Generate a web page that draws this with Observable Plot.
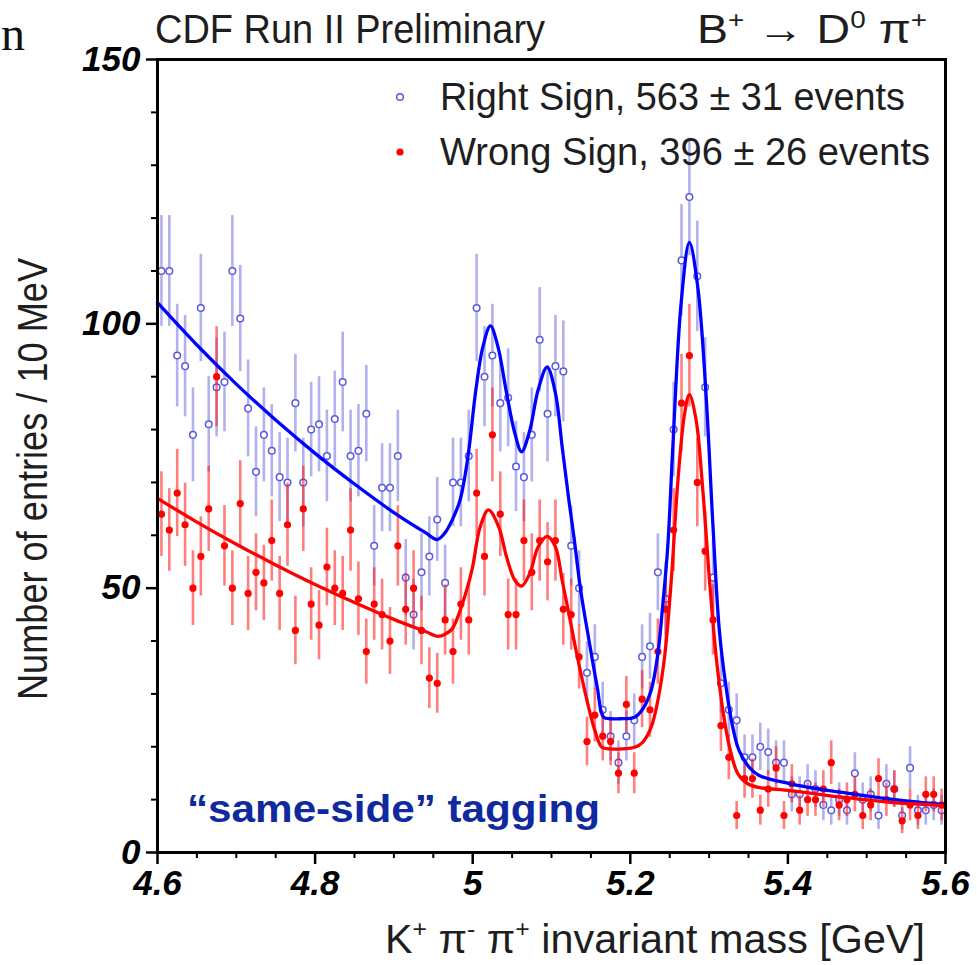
<!DOCTYPE html>
<html>
<head>
<meta charset="utf-8">
<script src="https://cdn.jsdelivr.net/npm/d3@7"></script>
<script src="https://cdn.jsdelivr.net/npm/@observablehq/plot@0.6"></script>
<style>
  html, body { margin: 0; padding: 0; background: #fff; }
  #chart { position: relative; width: 977px; height: 965px; overflow: hidden; }
  #chart svg { overflow: visible; }
</style>
</head>
<body>
<div id="chart"></div>
<script>
// K+ pi- pi+ invariant mass, 10 MeV bins from 4.60 to 5.60 GeV
const massLow = 4.6;
const binWidth = 0.01;

// Entries per bin, right-sign candidates
const rightSign = [
  110,110,94,92,79,103,81,88,89,110,
  101,84,72,79,76,71,70,85,70,80,
  81,75,82,89,75,76,83,58,69,69,
  75,52,45,53,56,63,51,70,70,75,
  103,90,94,85,86,73,71,79,97,83,
  92,91,58,50,34,37,27,22,17,22,
  25,37,39,53,48,80,112,124,109,88,
  52,32,27,25,18,18,20,19,17,17,
  11,11,13,12,9,8,10,8,15,10,
  11,7,13,12,7,16,8,8,9,8
];

// Entries per bin, wrong-sign candidates
const wrongSign = [
  64,61,68,62,50,56,65,90,58,50,
  66,49,53,51,59,49,62,42,65,47,
  43,54,50,49,61,48,38,47,45,40,
  58,46,50,42,33,32,44,38,47,44,
  68,56,79,64,45,45,59,53,59,55,
  59,46,45,37,21,26,22,21,15,28,
  15,29,27,38,46,61,85,94,70,57,
  44,24,18,7,14,14,8,12,16,7,
  13,8,10,10,12,17,9,10,11,7,
  9,14,10,12,6,9,7,11,11,9
];

// Fitted model, right sign
const rightFitMass = [4.600,4.650,4.700,4.750,4.800,4.850,4.900,4.940,4.955,4.965,4.974,4.984,4.994,5.004,5.013,5.0225,5.032,5.043,5.0535,5.062,5.0725,5.083,5.0945,5.105,5.1135,5.122,5.1285,5.137,5.1475,5.158,5.166,5.175,5.187,5.2055,5.216,5.2265,5.235,5.241,5.2475,5.254,5.2645,5.275,5.2855,5.296,5.3045,5.313,5.3215,5.330,5.338,5.351,5.363,5.403,5.467,5.530,5.594,5.600];
const rightFitCount = [104,96,88.6,81.8,75.5,69.7,64.3,60.5,59.2,60.5,62.9,66.7,74.9,87.5,95.7,99.6,95.7,86.9,79.3,75.8,79.9,87.5,91.8,86.9,76.8,66.7,59.7,49.6,40.2,31.3,25.6,25.3,25.3,25.6,27.2,30.7,37.6,46.5,57.8,76.8,103.9,115.4,107.1,86.9,62.9,42,31.3,23.7,19.3,16.1,14.6,13,11.4,10.1,9.1,9.0];

// Fitted model, wrong sign
const wrongFitMass = [4.600,4.650,4.700,4.750,4.800,4.850,4.900,4.940,4.956,4.965,4.974,4.987,4.999,5.0095,5.020,5.033,5.043,5.0535,5.062,5.0725,5.083,5.0945,5.105,5.1135,5.122,5.132,5.145,5.155,5.164,5.175,5.190,5.2055,5.216,5.2265,5.235,5.2435,5.252,5.2605,5.269,5.275,5.2835,5.292,5.3005,5.309,5.3175,5.326,5.3365,5.349,5.363,5.403,5.467,5.530,5.594,5.600];
const wrongFitCount = [67,62.5,58.3,54.4,50.7,47.3,44.1,41.8,40.9,41.3,42.3,47.1,53.4,61.6,64.8,61.6,55.9,51.5,50.4,52.8,57.8,59.8,57.8,51.5,45.2,37.6,28.8,23.1,19.9,19.6,19.6,19.9,20.9,23.7,28.8,37,51.5,70.5,83.1,86.6,81.8,68.6,51.5,37,26.9,19.9,14.9,13,12.3,11.7,10.5,9.5,8.9,8.8];

// Axis ticks and labels
const xTicks = [4.6, 4.8, 5.0, 5.2, 5.4, 5.6];
const xTickLabels = ["4.6", "4.8", "5", "5.2", "5.4", "5.6"];
const xMinorTicks = [4.65,4.7,4.75,4.85,4.9,4.95,5.05,5.1,5.15,5.25,5.3,5.35,5.45,5.5,5.55];
const yTicks = [0, 50, 100, 150];
const yTickLabels = ["0", "50", "100", "150"];
const yMinorTicks = [10,20,30,40,60,70,80,90,110,120,130,140];

const legendLabels = ["Right Sign, 563 \u00b1 31 events", "Wrong Sign, 396 \u00b1 26 events"];

const toBins = counts => counts.map((n, i) => ({mass: massLow + binWidth * (i + 0.5), n, err: Math.sqrt(n)}));
const rsBins = toBins(rightSign);
const wsBins = toBins(wrongSign);
const rsFit = rightFitMass.map((m, i) => ({mass: m, n: rightFitCount[i]}));
const wsFit = wrongFitMass.map((m, i) => ({mass: m, n: wrongFitCount[i]}));

const tickFont = {fontSize: 35, fontWeight: "bold", fontStyle: "italic", fontFamily: "Liberation Sans, Arial, sans-serif"};

const chart = Plot.plot({
  width: 977,
  height: 965,
  marginLeft: 157,
  marginRight: 32,
  marginTop: 59,
  marginBottom: 113,
  style: {background: "white", fontFamily: "Liberation Sans, Arial, sans-serif", color: "black"},
  x: {domain: [4.6, 5.6]},
  y: {domain: [0, 150]},
  marks: [
    Plot.ruleX(rsBins, {x: "mass", y1: d => d.n - d.err, y2: d => d.n + d.err, stroke: "rgba(70,70,220,0.42)", strokeWidth: 2.6}),
    Plot.dot(rsBins, {x: "mass", y: "n", r: 3.3, stroke: "#5a5ae0", strokeWidth: 1.5, fill: "white"}),
    Plot.ruleX(wsBins, {x: "mass", y1: d => d.n - d.err, y2: d => d.n + d.err, stroke: "rgba(255,20,20,0.55)", strokeWidth: 2.6}),
    Plot.dot(wsBins, {x: "mass", y: "n", r: 3.6, fill: "#ff0000", stroke: "none"}),
    Plot.line(rsFit, {x: "mass", y: "n", stroke: "#0000ff", strokeWidth: 3.3, curve: "catmull-rom"}),
    Plot.line(wsFit, {x: "mass", y: "n", stroke: "#ff0000", strokeWidth: 3.3, curve: "catmull-rom"}),
    Plot.axisX(xMinorTicks, {tickSize: 6, strokeWidth: 2, tickFormat: () => "", label: null}),
    Plot.axisX(xTicks, {tickSize: 12, tickPadding: 6, strokeWidth: 2.5, label: null,
      tickFormat: d => xTickLabels[xTicks.indexOf(d)], ...tickFont}),
    Plot.axisY(yMinorTicks, {tickSize: 6, strokeWidth: 2, tickFormat: () => "", label: null}),
    Plot.axisY(yTicks, {tickSize: 11, tickPadding: 6, strokeWidth: 2.5, label: null,
      tickFormat: d => yTickLabels[yTicks.indexOf(d)], ...tickFont}),
    Plot.frame({stroke: "black", strokeWidth: 3})
  ]
});

document.getElementById("chart").appendChild(chart);

// Annotations: titles, legend, axis titles
const svg = d3.select(chart);
const thin = "'Liberation Sans', Arial, sans-serif";

function addText(parts, opts) {
  const t = svg.append("text")
    .attr("x", opts.x).attr("y", opts.y)
    .attr("font-family", opts.family || thin)
    .attr("font-size", opts.size)
    .attr("font-weight", opts.weight || "normal")
    .attr("fill", opts.fill || "#1e1e1e")
    .attr("text-anchor", opts.anchor || "start");
  if (opts.length) t.attr("textLength", opts.length).attr("lengthAdjust", "spacingAndGlyphs");
  if (opts.transform) t.attr("transform", opts.transform);
  let shift = 0;
  for (const p of parts) {
    const sp = t.append("tspan").text(p.s);
    const target = p.sup ? -opts.size * 0.38 : 0;
    if (target !== shift) { sp.attr("dy", target - shift); shift = target; }
    if (p.sup) sp.attr("font-size", opts.size * 0.6);
  }
  return t;
}

// trailing letter of the surrounding page text
addText([{s: "n"}], {x: 1, y: 50, size: 48, family: "'Liberation Serif', 'Times New Roman', serif", fill: "#111"});

addText([{s: "CDF Run II Preliminary"}], {x: 155, y: 43, size: 41, length: 390});
addText([{s: "B"}, {s: "+", sup: true}, {s: " \u2192 D"}, {s: "0", sup: true}, {s: " \u03c0"}, {s: "+", sup: true}],
  {x: 697, y: 43, size: 40, length: 230});

addText([{s: legendLabels[0]}], {x: 440, y: 110, size: 39, length: 465});
addText([{s: legendLabels[1]}], {x: 440, y: 165, size: 39, length: 490});
svg.append("circle").attr("cx", 400).attr("cy", 97).attr("r", 3.3)
  .attr("fill", "white").attr("stroke", "#5a5ae0").attr("stroke-width", 1.5);
svg.append("circle").attr("cx", 400).attr("cy", 152).attr("r", 3.6).attr("fill", "#ff0000");

addText([{s: "\u201csame-side\u201d tagging"}], {x: 187, y: 822, size: 38, weight: "bold",
  family: "'Liberation Sans', Arial, sans-serif", fill: "#0f2a9e", length: 413});

addText([{s: "K"}, {s: "+", sup: true}, {s: " \u03c0"}, {s: "-", sup: true}, {s: " \u03c0"}, {s: "+", sup: true}, {s: " invariant mass [GeV]"}],
  {x: 385, y: 953, size: 41, length: 540});

addText([{s: "Number of entries / 10 MeV"}], {x: 0, y: 0, size: 42, anchor: "middle", length: 442,
  transform: "translate(47,479) rotate(-90)"});
</script>
</body>
</html>
